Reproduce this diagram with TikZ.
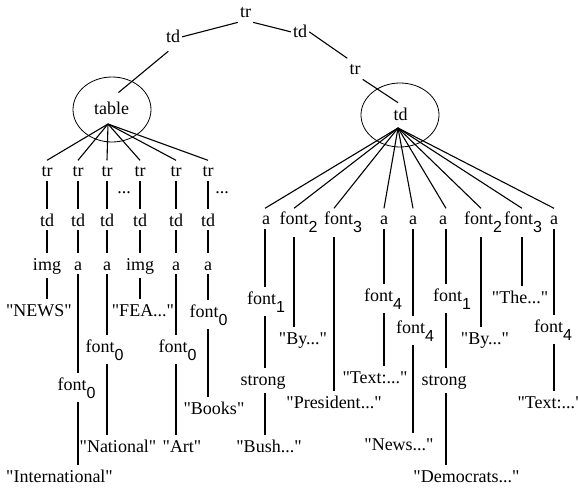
\documentclass[tikz,border=0pt]{standalone}
\usepackage{fontspec}
\setmainfont{Liberation Serif}[Ligatures=TeXOff]
\newfontfamily\sublab{Liberation Sans}
\usetikzlibrary{shapes.geometric}
\newcommand\fnt[1]{font\raisebox{-8pt}{\sublab\fontsize{16}{16}\selectfont #1}}
\newcommand\qt[1]{\char34 #1\char34}
\tikzset{
  lbl/.style={anchor=base, inner xsep=2pt, inner ysep=4pt, text height=12.5pt},
  edge/.style={line width=1.1pt},
  oval/.style={ellipse, draw, line width=0.8pt, inner sep=0pt}
}
\begin{document}
\begin{tikzpicture}[x=1pt,y=-1pt,font=\fontsize{18}{20}\selectfont]
\useasboundingbox (0,0) rectangle (578,489);
% top part
\node[lbl] (tr0) at (245.5,18) {tr};
\node[lbl] (tdL) at (173,43) {td};
\node[lbl] (tdR) at (300,38) {td};
\node[lbl] (trR) at (355,75) {tr};
\node[oval, minimum width=78pt, minimum height=65pt] (ellL) at (112,109.5) {};
\node[lbl] (tbl) at (111.5,115) {table};
\node[oval, minimum width=78pt, minimum height=64pt] (ellR) at (400,115) {};
\node[lbl] (tdC) at (400.5,121) {td};
\coordinate (fanL) at (108,124);
\coordinate (fanR) at (398,128);
\draw[edge] (tr0.south west) -- (tdL.east);
\draw[edge] (tr0.south east) -- (tdR.west);
\draw[edge, shorten <=6pt, shorten >=9pt] (tdL.south) -- (tbl.north);
\draw[edge] (tdR.east) -- (trR.north west);
\draw[edge, shorten >=3pt] (trR.south east) -- (tdC.north);
% column x positions
\foreach \n/\x in {c1/47,c2/78,c3/107,c4/140,c5/176,c6/208,
  r1/265,r2/294,r3/334,r4/384,r5/413,r6/446,r7/481,r8/522,r9/554}
  {\coordinate (\n) at (\x,0);}
% left subtree
\foreach \i/\x in {1/47,2/78,3/107,4/140,5/176,6/208}{
  \node[lbl] (tr\i) at (\x,177) {tr};
  \node[lbl] (td\i) at (\x,226) {td};
}
\node[lbl] (dots1) at (124,194) {...};
\node[lbl] (dots2) at (222,194) {...};
\node[lbl] (img1) at (47,270) {img};
\node[lbl] (a2) at (78,270) {a};
\node[lbl] (a3) at (107,270) {a};
\node[lbl] (img4) at (140,270) {img};
\node[lbl] (a5) at (176,270) {a};
\node[lbl] (a6) at (208,270) {a};
\node[lbl] (news) at (39,316) {\qt{NEWS}};
\node[lbl] (fea) at (143,316) {\qt{FEA...}};
\node[lbl] (f06) at (208.5,317) {\fnt{0}};
\node[lbl] (f03) at (104.5,352) {\fnt{0}};
\node[lbl] (f05) at (177.5,352) {\fnt{0}};
\node[lbl] (f02) at (76.5,390) {\fnt{0}};
\node[lbl] (books) at (214,414) {\qt{Books}};
\node[lbl] (natl) at (118,452) {\qt{National}};
\node[lbl] (art) at (182,452) {\qt{Art}};
\node[lbl] (intl) at (59.5,482) {\qt{International}};
\foreach \i in {1,...,6}{
  \draw[edge] (fanL) -- (tr\i.north -| c\i);
  \draw[edge] (tr\i.south -| c\i) -- (td\i.north -| c\i);
}
\foreach \a/\b/\c in {td1/img1/c1, img1/news/c1,
  td2/a2/c2, a2/f02/c2, f02/intl/c2,
  td3/a3/c3, a3/f03/c3, f03/natl/c3,
  td4/img4/c4, img4/fea/c4,
  td5/a5/c5, a5/f05/c5, f05/art/c5,
  td6/a6/c6, a6/f06/c6, f06/books/c6}
  {\draw[edge] (\a.south -| \c) -- (\b.north -| \c);}
% right subtree
\node[lbl] (ra1) at (266,225) {a};
\node[lbl] (rf2) at (298.5,225) {\fnt{2}};
\node[lbl] (rf3) at (343,225) {\fnt{3}};
\node[lbl] (ra4) at (384,225) {a};
\node[lbl] (ra5) at (413,225) {a};
\node[lbl] (ra6) at (443,225) {a};
\node[lbl] (rf7) at (483,225) {\fnt{2}};
\node[lbl] (rf8) at (523,225) {\fnt{3}};
\node[lbl] (ra9) at (554,225) {a};
\node[lbl] (rf1) at (266,304) {\fnt{1}};
\node[lbl] (rs1) at (263,385) {strong};
\node[lbl] (bush) at (269,452) {\qt{Bush...}};
\node[lbl] (by1) at (303,344) {\qt{By...}};
\node[lbl] (pres) at (334,408) {\qt{President...}};
\node[lbl] (rf4) at (383,301) {\fnt{4}};
\node[lbl] (text1) at (375,383) {\qt{Text:...}};
\node[lbl] (rf5) at (415,333) {\fnt{4}};
\node[lbl] (news2) at (399,450) {\qt{News...}};
\node[lbl] (rf6) at (452,301) {\fnt{1}};
\node[lbl] (rs6) at (444,385) {strong};
\node[lbl] (dem) at (466.5,482) {\qt{Democrats...}};
\node[lbl] (by2) at (485,344) {\qt{By...}};
\node[lbl] (the) at (520,303) {\qt{The...}};
\node[lbl] (rf9) at (553,332) {\fnt{4}};
\node[lbl] (text2) at (550,408) {\qt{Text:...}};
\foreach \n/\c in {ra1/r1,rf2/r2,rf3/r3,ra4/r4,ra5/r5,ra6/r6,rf7/r7,rf8/r8,ra9/r9}
  {\draw[edge] (fanR) -- (\n.north -| \c);}
\foreach \a/\b/\c in {ra1/rf1/r1, rf1/rs1/r1, rs1/bush/r1,
  rf2/by1/r2, rf3/pres/r3,
  ra4/rf4/r4, rf4/text1/r4,
  ra5/rf5/r5, rf5/news2/r5,
  ra6/rf6/r6, rf6/rs6/r6, rs6/dem/r6,
  rf7/by2/r7, rf8/the/r8,
  ra9/rf9/r9, rf9/text2/r9}
  {\draw[edge] (\a.south -| \c) -- (\b.north -| \c);}
\end{tikzpicture}
\end{document}
